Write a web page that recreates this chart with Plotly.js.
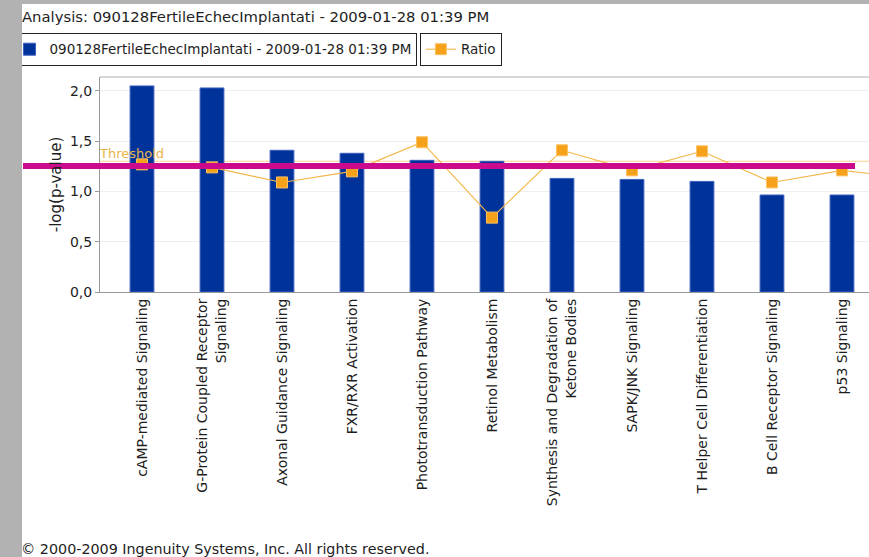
<!DOCTYPE html>
<html>
<head>
<meta charset="utf-8">
<script src="https://cdn.plot.ly/plotly-3.0.1.min.js"></script>
<style>
  html, body { margin: 0; padding: 0; background: #b2b2b2; width: 869px; height: 557px; overflow: hidden; }
  #chart { position: absolute; left: 22px; top: 4px; width: 847px; height: 553px; background: #ffffff; }
</style>
</head>
<body>
<div id="chart"></div>
<script>
// ---- data ----
const categories = [
  "cAMP-mediated Signaling",
  "G-Protein Coupled Receptor<br>Signaling",
  "Axonal Guidance Signaling",
  "FXR/RXR Activation",
  "Phototransduction Pathway",
  "Retinol Metabolism",
  "Synthesis and Degradation of<br>Ketone Bodies",
  "SAPK/JNK Signaling",
  "T Helper Cell Differentiation",
  "B Cell Receptor Signaling",
  "p53 Signaling"
];
const negLogP = [2.05, 2.03, 1.41, 1.38, 1.31, 1.30, 1.13, 1.12, 1.10, 0.965, 0.965];
// ratio values (last one belongs to the next, cut-off category)
const ratio = [1.27, 1.24, 1.09, 1.20, 1.49, 0.74, 1.41, 1.21, 1.40, 1.09, 1.21, 1.13];
const thresholdValue = 1.301;
const highlightLevel = 1.254;
const yTicks = [0, 0.5, 1.0, 1.5, 2.0];
const seriesName = "090128FertileEchecImplantati - 2009-01-28 01:39 PM";
const ratioName = "Ratio";
const titleText = "Analysis: 090128FertileEchecImplantati - 2009-01-28 01:39 PM";
const footerText = "© 2000-2009 Ingenuity Systems, Inc. All rights reserved.";

const barX = negLogP.map((_, i) => i);
const ratioX = ratio.map((_, i) => i);

const font = "DejaVu Sans, Verdana, sans-serif";
const ink = "#1e1e1e";

const traces = [
  {
    type: "bar",
    x: barX,
    y: negLogP,
    name: seriesName,
    width: 0.34,
    marker: { color: "#003399", line: { color: "#3d5fc0", width: 1 } },
    legend: "legend",
    hoverinfo: "skip"
  },
  {
    type: "scatter",
    mode: "lines+markers",
    x: ratioX,
    y: ratio,
    name: ratioName,
    line: { color: "#f2b648", width: 1.1 },
    marker: { symbol: "square", size: 11, color: "#f5a11a", line: { color: "#fbc266", width: 1 } },
    legend: "legend2",
    hoverinfo: "skip"
  }
];

const layout = {
  width: 847,
  height: 553,
  margin: { l: 78, r: 0, t: 73, b: 265, autoexpand: false },
  paper_bgcolor: "#ffffff",
  plot_bgcolor: "#ffffff",
  separators: ",.",
  font: { family: font, size: 12, color: ink },
  showlegend: true,
  legend: {
    x: -0.119, xanchor: "left", y: 1.205, yanchor: "top",
    bgcolor: "#ffffff", bordercolor: "#222222", borderwidth: 1,
    font: { family: font, size: 13.5, color: ink },
    itemwidth: 30
  },
  legend2: {
    x: 0.416, xanchor: "left", y: 1.205, yanchor: "top",
    bgcolor: "#ffffff", bordercolor: "#222222", borderwidth: 1,
    font: { family: font, size: 13.5, color: ink },
    itemwidth: 30
  },
  xaxis: {
    range: [-0.6, 10.386],
    tickmode: "array",
    tickvals: barX,
    ticktext: categories,
    tickangle: -90,
    tickfont: { family: font, size: 14, color: ink },
    showgrid: false,
    showline: true,
    linecolor: "#999999",
    linewidth: 1,
    ticks: "",
    zeroline: false,
    automargin: false,
    fixedrange: true
  },
  yaxis: {
    range: [0, 2.139],
    tickmode: "array",
    tickvals: yTicks,
    tickformat: ".1f",
    tickfont: { family: font, size: 14, color: ink },
    showgrid: true,
    gridcolor: "#eeeeee",
    showline: true,
    linecolor: "#999999",
    ticks: "outside",
    ticklen: 4,
    tickcolor: "#999999",
    zeroline: false,
    automargin: false,
    title: { text: "-log(p-value)", font: { family: font, size: 15, color: ink }, standoff: 4 },
    fixedrange: true
  },
  shapes: [
    // plot top border
    { type: "line", xref: "paper", yref: "paper", x0: 0, x1: 1, y0: 1, y1: 1,
      line: { color: "#c8c8c8", width: 1.5 } },
    // threshold line
    { type: "line", xref: "paper", yref: "y", x0: 0, x1: 1, y0: thresholdValue, y1: thresholdValue,
      line: { color: "#f5d290", width: 1 }, layer: "below" },
    // magenta highlight line
    { type: "line", xref: "paper", yref: "y", x0: -0.1001, x1: 0.9818, y0: highlightLevel, y1: highlightLevel,
      line: { color: "#cc0a8c", width: 6 }, layer: "above" }
  ],
  annotations: [
    { text: titleText, xref: "paper", yref: "paper", x: -0.1035, y: 1 + 60 / 215,
      xanchor: "left", yanchor: "middle", showarrow: false,
      font: { family: font, size: 14.8, color: ink } },
    { text: "Threshold", xref: "paper", yref: "y", x: 0, y: thresholdValue,
      xanchor: "left", yanchor: "bottom", showarrow: false, yshift: -2, xshift: -3,
      font: { family: font, size: 13, color: "#eab548" } },
    { text: footerText, xref: "paper", yref: "paper", x: -0.1055, y: -1.195,
      xanchor: "left", yanchor: "middle", showarrow: false,
      font: { family: font, size: 14.3, color: ink } }
  ],
  bargap: 0.5
};

Plotly.newPlot("chart", traces, layout, { displayModeBar: false, staticPlot: true });
</script>
</body>
</html>
